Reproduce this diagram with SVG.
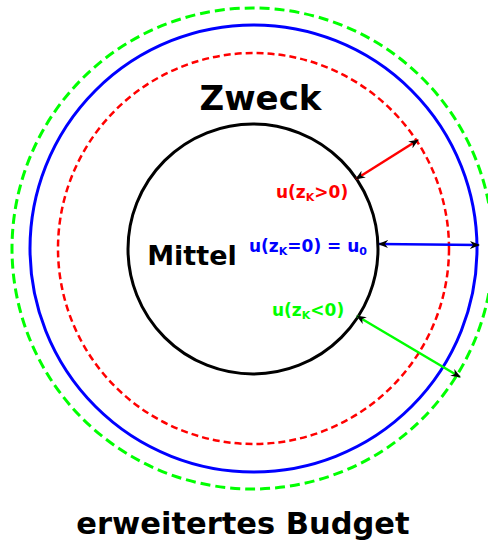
<svg xmlns="http://www.w3.org/2000/svg" width="488" height="544" viewBox="0 0 488 544">
<style>
text{font-family:"DejaVu Sans",sans-serif;font-weight:bold}
.c{fill:none}
.con{fill:none;stroke-width:2.5;marker-start:url(#ah);marker-end:url(#ah)}
</style>
<defs>
<marker id="ah" viewBox="0 0 10 10" refX="9" refY="5" markerWidth="4" markerHeight="4" orient="auto-start-reverse" markerUnits="strokeWidth">
<path d="M0,1 L10,5 L0,9 L3,5 Z" fill="#000"/>
</marker>
</defs>
<rect width="488" height="544" fill="#fff"/>
<g id="budget">
<circle class="c" cx="252.5" cy="248.5" r="240.5" stroke="#00ff00" stroke-width="3" stroke-dasharray="10,5"/>
<text x="243" y="534" font-size="30.5" text-anchor="middle">erweitertes Budget</text>
</g>
<g id="u0circle">
<circle class="c" cx="253.5" cy="248.5" r="223.5" stroke="#0000ff" stroke-width="3"/>
</g>
<g id="zweck">
<circle class="c" cx="253.5" cy="248.5" r="195.5" stroke="#ff0000" stroke-width="2.5" stroke-dasharray="7,4"/>
<text x="260.5" y="110" font-size="34" text-anchor="middle">Zweck</text>
</g>
<g id="mittel">
<circle class="c" cx="253" cy="249" r="125" stroke="#000" stroke-width="3"/>
<text x="192" y="265" font-size="27" text-anchor="middle">Mittel</text>
</g>
<g id="connectors">
<line class="con" x1="356" y1="179" x2="418" y2="140" stroke="#ff0000"/>
<line class="con" x1="379" y1="244" x2="479" y2="245" stroke="#0000ff"/>
<line class="con" x1="357" y1="316" x2="460" y2="377" stroke="#00ff00"/>
</g>
<g id="labels">
<text x="276" y="198" font-size="17" fill="#ff0000">u(z<tspan font-size="11" dy="3">K</tspan><tspan dy="-3">&gt;0)</tspan></text>
<text x="249" y="252" font-size="17" fill="#0000ff">u(z<tspan font-size="11" dy="3">K</tspan><tspan dy="-3">=0) = u</tspan><tspan font-size="11" dy="3">0</tspan></text>
<text x="272" y="316" font-size="17" fill="#00ff00">u(z<tspan font-size="11" dy="3">K</tspan><tspan dy="-3">&lt;0)</tspan></text>
</g>
</svg>
